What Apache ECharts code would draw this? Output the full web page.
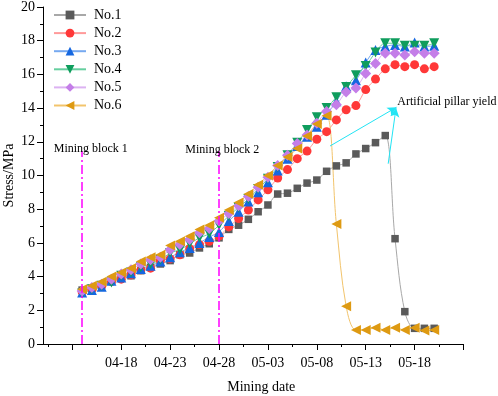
<!DOCTYPE html>
<html>
<head>
<meta charset="utf-8">
<script src="https://cdn.jsdelivr.net/npm/echarts@6/dist/echarts.min.js"></script>
<style>
html,body{margin:0;padding:0;background:#fff}
#main{width:498px;height:396px}
</style>
</head>
<body>
<div id="main"></div>
<script>
// mining dates (one reading a day)
const dates = ['04-14','04-15','04-16','04-17','04-18','04-19','04-20','04-21','04-22','04-23','04-24','04-25','04-26','04-27','04-28','04-29','04-30',
	'05-01','05-02','05-03','05-04','05-05','05-06','05-07','05-08','05-09','05-10','05-11','05-12','05-13','05-14','05-15','05-16','05-17','05-18','05-19','05-20']

const no1 = [3.2,3.3,3.5,3.8,4.0,4.05,4.35,4.55,4.75,4.95,5.3,5.4,5.7,5.95,
	6.3,6.8,7.05,7.4,7.85,8.25,8.9,8.95,9.24,9.55,9.73,10.25,10.57,10.75,11.28,11.6,11.95,12.37,6.25,1.92,0.93,0.93,0.93]
const no2 = [3.1,3.25,3.45,3.7,3.85,4.1,4.4,4.5,4.95,5.05,5.3,5.65,5.9,6.1,
	6.4,6.95,7.45,7.95,8.55,9.15,9.85,10.35,11.0,11.45,12.15,12.6,13.3,13.9,14.15,15.1,15.72,16.33,16.58,16.46,16.58,16.33,16.46]
const no3 = [3.05,3.2,3.4,3.75,3.95,4.2,4.45,4.65,4.9,5.15,5.45,5.7,6.0,6.35,
	6.65,7.3,7.85,8.45,9.0,9.6,10.3,11.0,11.75,12.3,12.9,13.6,14.4,15.3,15.65,16.7,17.45,17.65,17.75,17.65,17.9,17.65,17.7]
const no4 = [3.0,3.25,3.45,3.65,4.05,4.25,4.55,4.75,5.0,5.4,5.6,5.95,6.3,6.55,
	7.05,7.6,8.1,8.6,9.2,9.8,10.5,11.2,11.95,12.7,13.45,14.0,14.65,15.25,15.95,16.5,17.3,17.85,17.85,17.7,17.7,17.7,17.85]
const no5 = [3.15,3.35,3.55,3.85,4.15,4.4,4.75,5.0,5.15,5.6,5.9,6.2,6.6,6.85,
	7.3,7.75,8.2,8.75,9.3,9.9,10.6,11.2,11.9,12.4,13.1,13.8,14.2,14.95,15.2,16.05,16.65,17.25,17.25,17.15,17.35,17.25,17.25]
const no6 = [3.25,3.45,3.7,4.0,4.25,4.5,4.9,5.15,5.3,5.85,6.1,6.4,6.8,7.05,
	7.5,7.95,8.4,8.9,9.45,10.0,10.6,11.1,11.6,12.35,13.05,13.55,7.12,2.24,0.83,0.83,0.97,0.83,0.97,0.83,0.97,0.8,0.83]

// axis ticks and labels
const majorTicks = ['04-13','04-18','04-23','04-28','05-03','05-08','05-13','05-18','05-23']
const tickLabels = ['04-18','04-23','04-28','05-03','05-08','05-13','05-18']
const yTicks = [0,2,4,6,8,10,12,14,16,18,20]

// 日期转成天数 (从04-08算起)
const dayOf = (s) => {
	const p = s.split('-')
	return (Date.UTC(2020, +p[0] - 1, +p[1]) - Date.UTC(2020, 3, 8)) / 86400000
}
const dayToLabel = {}
tickLabels.forEach(t => { dayToLabel[dayOf(t)] = t })

const font = 'Liberation Serif'
const names = ['No.1','No.2','No.3','No.4','No.5','No.6']
const values = [no1, no2, no3, no4, no5, no6]
const markerColors = ['#5a5a5a','#ff3838','#1567e0','#0f9d5d','#c47ee8','#de9a12']
const lineColors = ['#a8a8a8','#ff9a9a','#76a9f0','#66cf9f','#dcb2f2','#f2c46c']
const symbols = ['rect','circle','triangle','triangle','diamond','triangle']
const rotates = [0,0,0,180,0,90]
const sizes = [7.5,9,10,10,11,10]

const series = names.map((n, k) => ({
	name: n,
	type: 'line',
	smooth: 0.35,
	symbol: symbols[k],
	symbolRotate: rotates[k],
	symbolSize: sizes[k],
	showAllSymbol: true,
	lineStyle: { color: lineColors[k], width: 1 },
	itemStyle: { color: markerColors[k], borderWidth: 0 },
	data: dates.map((t, i) => [dayOf(t), values[k][i]])
}))

// 开采分块线 + 注释
series[0].markLine = {
	silent: true,
	symbol: ['none','none'],
	label: { show: false },
	lineStyle: { color: '#ff00ff', width: 1.5, type: [9,3,2,3] },
	data: [
		[{ coord: [dayOf('04-14'), 0] }, { coord: [dayOf('04-14'), 11.45] }],
		[{ coord: [dayOf('04-28'), 0] }, { coord: [dayOf('04-28'), 11.45] }]
	]
}
series[1].markLine = {
	silent: true,
	symbol: ['none','arrow'],
	symbolSize: [7, 9],
	label: { show: false },
	lineStyle: { color: '#22e4f4', width: 1, type: 'solid' },
	data: [
		[{ coord: [31.35, 11.75] }, { coord: [38.15, 14.05] }],
		[{ coord: [37.3, 10.7] }, { coord: [38.1, 14.0] }]
	]
}
series[2].markPoint = {
	silent: true,
	symbol: 'circle',
	symbolSize: 0,
	label: { show: true, position: 'inside', color: '#000', fontFamily: font, fontSize: 12 },
	data: [
		{ coord: [6.88, 11.57], label: { formatter: 'Mining block 1' } },
		{ coord: [20.34, 11.52], label: { formatter: 'Mining block 2' } },
		{ coord: [43.3, 14.38], label: { formatter: 'Artificial pillar yield', fontSize: 12 } }
	]
}

const option = {
	animation: false,
	backgroundColor: '#fff',
	grid: { left: 43, right: 34.5, top: 7, bottom: 52, outerBoundsMode: 'none', containLabel: false },
	legend: {
		orient: 'vertical',
		left: 53,
		top: 8,
		padding: 0,
		itemWidth: 32,
		itemHeight: 11,
		itemGap: 4.1,
		textStyle: { fontFamily: font, fontSize: 14, color: '#000', padding: [0,0,0,3] },
		data: names
	},
	xAxis: [{
		type: 'value',
		min: 2,
		max: 45,
		name: 'Mining date',
		nameLocation: 'middle',
		nameGap: 36,
		nameMoveOverlap: false,
		nameTextStyle: { fontFamily: font, fontSize: 14, color: '#000', padding: [0,0,0,16] },
		axisLine: { lineStyle: { color: '#000', width: 1 } },
		axisTick: { show: true, length: 6, lineStyle: { color: '#000' }, customValues: majorTicks.map(dayOf) },
		axisLabel: {
			fontFamily: font, fontSize: 14, color: '#000', margin: 12,
			customValues: tickLabels.map(dayOf),
			formatter: (v) => dayToLabel[v] || ''
		},
		splitLine: { show: false }
	}, {
		// 小刻度
		type: 'value',
		min: 2,
		max: 45,
		position: 'bottom',
		offset: 0,
		axisLine: { show: false },
		axisTick: { show: true, length: 3, lineStyle: { color: '#000' }, customValues: majorTicks.map(dayOf).map(d => d - 2.5) },
		axisLabel: { show: false },
		splitLine: { show: false }
	}],
	yAxis: {
		type: 'value',
		min: 0,
		max: 20,
		interval: 2,
		name: 'Stress/MPa',
		nameLocation: 'middle',
		nameGap: 27,
		nameMoveOverlap: false,
		nameTextStyle: { fontFamily: font, fontSize: 14, color: '#000' },
		axisLine: { show: true, lineStyle: { color: '#000', width: 1 } },
		axisTick: { show: true, length: 6, lineStyle: { color: '#000' } },
		minorTick: { show: true, splitNumber: 2, length: 3, lineStyle: { color: '#000' } },
		axisLabel: { fontFamily: font, fontSize: 14, color: '#000', margin: 8,
			formatter: (v) => yTicks.indexOf(v) >= 0 ? String(v) : '' },
		splitLine: { show: false }
	},
	series: series
}

const myChart = echarts.init(document.getElementById('main'))
myChart.setOption(option)
</script>
</body>
</html>
